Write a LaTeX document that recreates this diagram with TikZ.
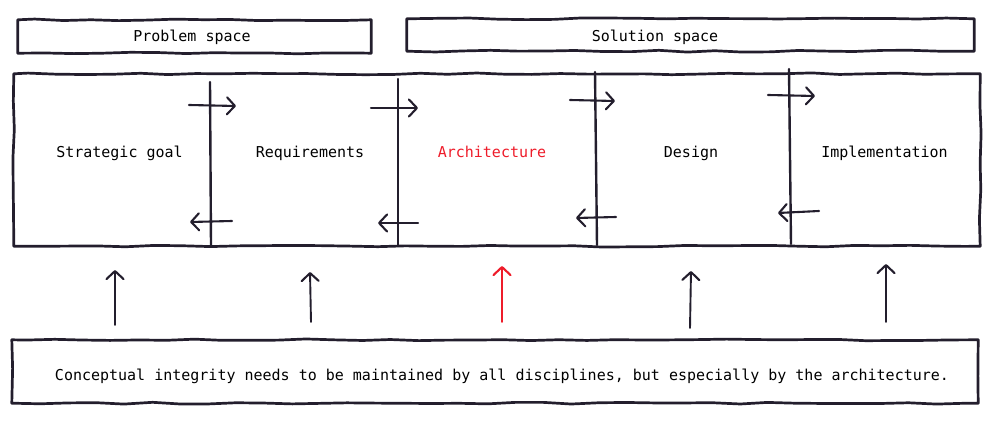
\documentclass[tikz,border=0pt]{standalone}
\usepackage{fontspec}
\setmonofont{DejaVu Sans Mono}
\usetikzlibrary{arrows.meta,decorations.pathmorphing}
\definecolor{ink}{HTML}{231E2D}
\definecolor{redink}{HTML}{EE1C2A}
\begin{document}
\begin{tikzpicture}[x=1bp,y=-1bp,
  sketch/.style={draw=ink,line width=2.7bp,line cap=round,line join=round,
    decorate,decoration={random steps,segment length=28bp,amplitude=0.9bp}},
  divider/.style={draw=ink,line width=2.4bp,line cap=round},
  label/.style={font=\ttfamily\fontsize{15bp}{18bp}\selectfont,text=black,inner sep=0pt,anchor=base},
  flow/.style={draw=ink,line width=2.1bp,line cap=round,
    -{Straight Barb[length=8bp,width=17bp,line width=2.1bp,round]}},
  up/.style={flow,line width=1.9bp},
  hot/.style={draw=redink}]
\pgfmathsetseed{7}
\useasboundingbox (0,0) rectangle (997,435);
% boxes
\node[minimum width=353bp,minimum height=33bp,inner sep=0pt] (pb) at (194.5,36.5) {};
\node[label] at (192,41.5) {Problem space};
\node[minimum width=567bp,minimum height=32bp,inner sep=0pt] (sb) at (690.5,35) {};
\node[label] at (655,41.5) {Solution space};
\node[minimum width=966bp,minimum height=172bp,inner sep=0pt] (main) at (497,160) {};
\node[minimum width=966bp,minimum height=63bp,inner sep=0pt] (bot) at (495,371.5) {};
\node[label] (btxt) at (502,380.5) {Conceptual integrity needs to be maintained by all disciplines, but especially by the architecture.};
\draw[sketch] (pb.north west) rectangle (pb.south east);
\draw[sketch] (sb.north west) rectangle (sb.south east);
\draw[sketch] (main.north west) rectangle (main.south east);
\draw[sketch] (bot.north west) rectangle (bot.south east);
% labels
\node[label] (sg) at (119.5,157.5) {Strategic goal};
\node[label] (rq) at (310,157.5) {Requirements};
\node[label,text=redink] (ar) at (492,157.5) {Architecture};
\node[label] (ds) at (691,157.5) {Design};
\node[label] (im) at (884.5,157.5) {Implementation};
% dividers
\coordinate (d1t) at (210,82);  \coordinate (d1b) at (211,246);
\coordinate (d2t) at (398,79);  \coordinate (d2b) at (398,246);
\coordinate (d3t) at (595,72);  \coordinate (d3b) at (597,245);
\coordinate (d4t) at (789,69);  \coordinate (d4b) at (791,244);
\draw[divider] (d1t) -- (d1b);
\draw[divider] (d2t) -- (d2b);
\draw[divider] (d3t) -- (d3b);
\draw[divider] (d4t) -- (d4b);
% forward arrows
\coordinate (f1a) at (189,105); \coordinate (f1b) at (236,106);
\coordinate (f2a) at (371,108); \coordinate (f2b) at (418,108);
\coordinate (f3a) at (570,100); \coordinate (f3b) at (615,101);
\coordinate (f4a) at (768,95);  \coordinate (f4b) at (815,96);
\draw[flow] (f1a) -- (f1b);
\draw[flow] (f2a) -- (f2b);
\draw[flow] (f3a) -- (f3b);
\draw[flow] (f4a) -- (f4b);
% backward arrows
\coordinate (b1a) at (232,221); \coordinate (b1b) at (190,222);
\coordinate (b2a) at (418,223); \coordinate (b2b) at (378,223);
\coordinate (b3a) at (616,217); \coordinate (b3b) at (576,218);
\coordinate (b4a) at (819,211); \coordinate (b4b) at (778,213);
\draw[flow] (b1a) -- (b1b);
\draw[flow] (b2a) -- (b2b);
\draw[flow] (b3a) -- (b3b);
\draw[flow] (b4a) -- (b4b);
% upward arrows
\coordinate (u1a) at (115,325); \coordinate (u1b) at (115,270);
\coordinate (u2a) at (311,322); \coordinate (u2b) at (310,272);
\coordinate (u3a) at (502,322); \coordinate (u3b) at (502,266);
\coordinate (u4a) at (690,328); \coordinate (u4b) at (691,271);
\coordinate (u5a) at (886,322); \coordinate (u5b) at (886,264);
\draw[up] (u1a) -- (u1b);
\draw[up] (u2a) -- (u2b);
\draw[up,hot] (u3a) -- (u3b);
\draw[up] (u4a) -- (u4b);
\draw[up] (u5a) -- (u5b);
\end{tikzpicture}
\end{document}
